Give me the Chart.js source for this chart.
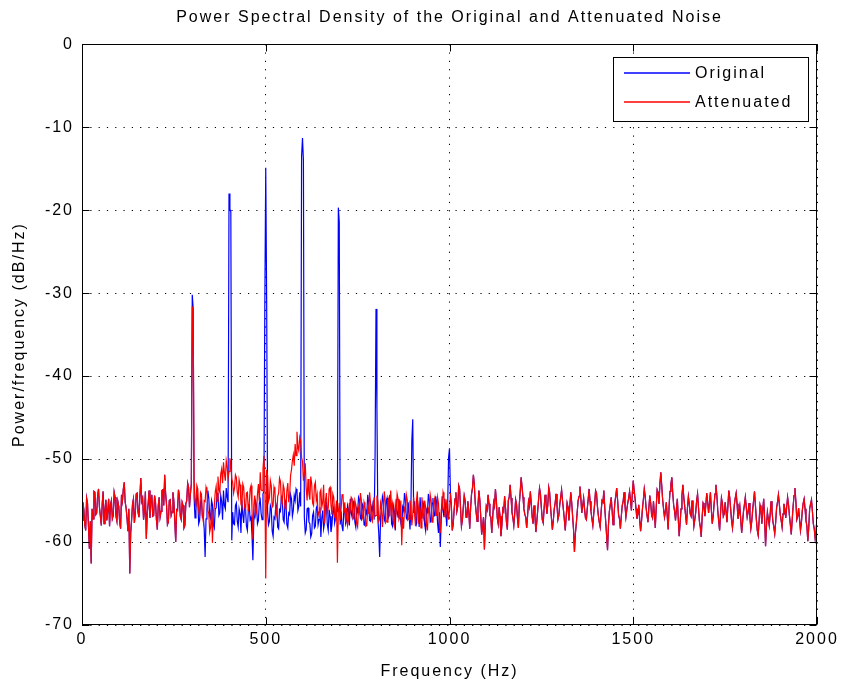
<!DOCTYPE html>
<html lang="en">
<head>
    <meta charset="UTF-8">
    <title>Power Spectral Density</title>
    <style>
        body { margin: 0; background: #fff; }
        canvas { display: block; }
    </style>
</head>
<body>
<canvas id="psd" width="841" height="684"></canvas>

<script src="https://cdn.jsdelivr.net/npm/chart.js"></script>
<script>
    // frequency grid, 2.5 Hz steps from 0 to 2000 Hz
    const freqStep = 2.5;
    const freqMax = 2000;
    const xTicks = [0, 500, 1000, 1500, 2000];
    const yTicks = [0, -10, -20, -30, -40, -50, -60, -70];

    // 0 - 297.5 Hz, same for both curves (one row = 50 Hz)
    const sharedLow = [
        -57.4, -55.2, -56.1, -57.9, -58.6, -54.7, -55.3, -58.0, -60.8, -57.5, -62.6, -56.0, -57.2, -53.9, -54.0, -56.7, -56.5, -54.4, -53.6, -55.8,
        -56.9, -58.0, -55.4, -53.9, -57.8, -56.2, -54.9, -57.4, -56.3, -54.8, -58.1, -55.5, -55.0, -57.2, -56.8, -54.0, -54.6, -56.9, -57.5, -55.1,
        -55.7, -57.6, -58.4, -54.3, -55.1, -53.6, -52.8, -55.2, -55.9, -57.1, -58.7, -56.0, -63.8, -58.9, -57.3, -55.4, -54.8, -57.7, -56.6, -54.2,
        -54.1, -56.4, -57.0, -54.5, -52.3, -55.1, -54.7, -57.3, -56.2, -53.9, -59.6, -56.6, -55.4, -53.8, -57.1, -55.0, -54.3, -56.9, -56.8, -54.4,
        -55.2, -57.3, -58.5, -55.6, -54.6, -57.0, -56.3, -53.8, -53.7, -55.6, -51.9, -54.1, -55.5, -57.9, -57.6, -55.0, -54.9, -56.8, -56.4, -54.0,
        -55.1, -57.5, -60.0, -56.1, -56.2, -53.7, -54.5, -56.9, -57.3, -55.2, -55.6, -58.3, -58.0, -55.4, -55.0, -52.9, -53.4, -55.8, -54.2, -53.0
    ];

    // 300 - 1000 Hz, original noise with the tonal peaks
    const originalMid = [
        -30.2, -31.8, -54.6, -57.1, -56.2, -53.9, -55.0, -57.8, -57.4, -55.2, -54.8, -57.0, -56.9, -58.4, -61.8, -57.2, -56.0, -53.8, -54.7, -56.9,
        -57.2, -55.0, -55.5, -57.9, -58.3, -56.0, -55.9, -54.1, -54.2, -56.8, -56.5, -54.4, -55.1, -57.3, -53.8, -55.6, -56.0, -53.5, -54.6, -55.2,
        -18.0, -19.9, -20.2, -59.8, -56.4, -57.8, -57.9, -55.6, -55.3, -57.5, -58.2, -56.0, -56.6, -58.9, -55.0, -56.7, -57.7, -55.4, -56.1, -58.1,
        -58.6, -56.2, -55.4, -57.3, -57.0, -59.1, -62.2, -57.4, -56.8, -55.1, -55.6, -57.8, -57.4, -55.3, -54.9, -56.6, -57.3, -54.2, -53.9, -31.2,
        -14.9, -31.2, -56.3, -57.9, -57.5, -55.6, -56.0, -58.7, -59.3, -57.0, -57.2, -55.4, -55.8, -58.2, -58.4, -56.1, -56.3, -54.6, -54.9, -57.3,
        -57.6, -55.0, -55.4, -57.9, -58.3, -56.5, -56.7, -54.3, -54.8, -56.9, -56.2, -54.4, -55.0, -53.6, -53.9, -56.2, -55.7, -54.0, -55.7, -13.5,
        -11.3, -14.0, -57.0, -58.9, -58.5, -56.0, -55.9, -57.6, -57.8, -59.4, -59.0, -56.8, -56.4, -58.3, -58.1, -55.9, -55.6, -57.9, -57.3, -55.8,
        -59.4, -57.1, -56.2, -58.4, -57.7, -55.6, -55.3, -57.9, -58.6, -56.1, -56.9, -58.8, -58.0, -56.3, -55.8, -57.7, -57.1, -55.4, -56.4, -19.7,
        -21.4, -57.9, -56.3, -58.1, -58.7, -56.0, -55.9, -57.8, -57.4, -55.6, -56.1, -58.0, -54.8, -56.5, -57.0, -55.1, -55.5, -57.6, -58.2, -56.0,
        -56.4, -54.6, -54.9, -57.1, -57.3, -55.4, -55.7, -57.9, -58.0, -56.2, -56.6, -54.3, -55.2, -57.4, -57.5, -55.8, -56.2, -55.0, -57.3, -49.5,
        -31.9, -43.8, -57.2, -58.9, -61.8, -57.0, -56.1, -54.5, -55.0, -57.3, -57.6, -55.1, -54.7, -57.2, -56.9, -54.3, -55.4, -57.8, -58.1, -55.7,
        -56.3, -58.6, -54.8, -56.2, -57.0, -54.9, -55.6, -57.7, -58.4, -55.8, -56.2, -54.1, -54.9, -57.1, -57.3, -55.2, -56.7, -58.5, -55.9, -47.8,
        -45.2, -56.5, -55.1, -57.4, -57.8, -55.3, -56.0, -58.2, -54.6, -56.6, -57.2, -55.0, -55.8, -57.9, -58.6, -56.1, -56.4, -54.2, -55.0, -57.6,
        -57.5, -55.3, -54.7, -56.9, -56.8, -54.5, -55.3, -57.7, -58.9, -56.4, -60.6, -57.3, -54.5, -56.2, -57.0, -54.8, -56.4, -58.1, -55.6, -49.8,
        -48.7
    ];

    // 300 - 1000 Hz, attenuated noise
    const attenuatedMid = [
        -31.6, -33.0, -52.5, -54.9, -55.8, -53.2, -53.6, -56.1, -56.9, -54.0, -54.2, -56.8, -57.5, -55.0, -55.1, -53.4, -53.9, -56.2, -56.6, -58.8,
        -58.2, -56.0, -60.1, -56.4, -55.7, -54.0, -53.3, -55.1, -52.1, -53.6, -54.0, -51.8, -51.2, -52.9, -50.4, -51.7, -52.6, -50.2, -50.9, -52.3,
        -51.5, -49.9, -50.6, -52.4, -52.8, -54.1, -53.5, -51.9, -52.2, -54.0, -54.6, -52.5, -53.1, -55.4, -55.8, -53.0, -53.4, -55.7, -56.2, -54.1,
        -54.0, -56.3, -55.5, -53.6, -53.2, -55.9, -59.7, -55.5, -54.4, -56.8, -56.3, -54.2, -53.0, -55.1, -51.6, -53.7, -53.8, -51.2, -49.6, -52.4,
        -64.4, -51.3, -52.0, -55.1, -54.7, -52.6, -53.2, -55.8, -55.6, -53.4, -53.9, -56.2, -56.8, -54.5, -54.1, -52.3, -52.7, -55.0, -55.3, -53.1,
        -53.6, -55.9, -56.0, -53.8, -52.9, -55.2, -54.4, -52.0, -51.3, -50.2, -49.5, -50.8, -48.2, -49.6, -46.7, -48.5, -49.0, -47.4, -47.9, -49.8,
        -50.3, -52.6, -51.8, -50.5, -53.5, -55.0, -52.4, -54.2, -54.9, -52.1, -53.0, -55.3, -55.6, -53.2, -52.8, -55.0, -54.3, -56.8, -56.4, -54.0,
        -53.7, -55.8, -55.2, -53.1, -57.8, -55.0, -54.1, -56.5, -55.9, -53.6, -53.4, -55.5, -56.7, -54.2, -54.6, -56.9, -57.2, -55.0, -62.5, -56.3,
        -55.3, -57.4, -56.0, -54.3, -54.2, -56.5, -55.2, -57.6, -55.9, -58.0, -57.4, -55.3, -56.1, -54.6, -54.8, -57.2, -57.0, -55.0, -55.5, -57.8,
        -58.2, -55.9, -56.4, -54.1, -54.9, -57.0, -57.3, -55.2, -55.7, -58.1, -58.0, -55.7, -56.6, -54.0, -55.2, -57.2, -57.5, -55.5, -54.6, -56.9,
        -56.8, -54.4, -55.1, -57.5, -57.2, -55.3, -56.0, -58.2, -56.1, -53.9, -55.0, -57.4, -57.6, -55.0, -54.7, -56.9, -53.8, -56.1, -55.4, -57.7,
        -58.1, -55.6, -56.3, -54.2, -54.8, -57.3, -57.0, -55.0, -60.4, -57.0, -58.4, -55.9, -56.2, -54.3, -54.9, -57.2, -57.3, -55.0, -55.8, -58.0,
        -56.7, -54.6, -56.5, -58.1, -55.1, -53.9, -57.8, -55.5, -56.0, -58.3, -54.6, -56.7, -57.2, -55.0, -55.8, -57.9, -58.6, -56.0, -56.4, -54.3,
        -55.0, -57.6, -57.5, -55.2, -54.7, -56.8, -56.8, -54.6, -55.3, -57.7, -58.9, -56.1, -56.1, -54.0, -54.5, -56.9, -57.0, -55.1, -55.4, -57.3,
        -56.2
    ];

    // 1002.5 - 2000 Hz, same for both curves
    const sharedHigh = [
        -54.1, -55.6, -58.6, -57.9, -56.2, -54.8, -54.0, -56.3, -55.7, -53.2, -53.6, -55.9, -58.1, -57.4, -55.8, -54.4, -55.0, -57.0, -56.9, -55.1,
        -56.3, -58.4, -55.9, -54.2, -53.5, -51.9, -53.0, -55.3, -56.4, -57.5, -55.6, -53.8, -54.9, -56.9, -59.1, -58.2, -57.0, -60.9, -57.6, -55.7,
        -56.1, -54.3, -55.4, -56.8, -57.0, -58.9, -57.1, -55.2, -55.7, -53.6, -55.0, -57.1, -57.8, -55.8, -56.9, -59.3, -58.0, -56.0, -56.3, -54.5,
        -55.9, -57.6, -58.5, -55.0, -54.6, -53.1, -54.7, -56.4, -57.1, -58.0, -56.6, -54.9, -55.5, -57.2, -58.3, -55.4, -53.9, -52.2, -53.4, -54.6,
        -56.0, -56.7, -57.0, -58.3, -56.8, -55.1, -55.7, -53.9, -55.4, -57.0, -57.8, -55.6, -56.9, -58.8, -57.6, -56.2, -54.8, -53.5, -54.2, -55.9,
        -57.3, -57.7, -55.9, -54.3, -55.2, -56.6, -55.5, -53.4, -54.0, -55.8, -57.2, -58.5, -57.4, -56.0, -55.3, -54.2, -55.6, -57.3, -56.8, -55.5,
        -54.6, -53.7, -55.0, -56.1, -57.3, -58.6, -56.9, -55.3, -55.8, -57.4, -55.6, -54.0, -55.2, -56.9, -58.5, -61.2, -59.0, -57.8, -56.4, -55.0,
        -54.5, -53.3, -54.8, -56.5, -55.6, -54.7, -56.0, -57.1, -57.3, -55.9, -54.8, -53.6, -55.1, -56.3, -57.2, -58.0, -56.6, -55.4, -53.8, -54.1,
        -55.7, -56.8, -57.6, -58.2, -56.4, -55.0, -55.2, -53.8, -55.9, -57.5, -59.2, -61.0, -58.0, -56.3, -55.5, -54.6, -56.2, -57.9, -56.8, -55.2,
        -54.4, -53.5, -55.0, -56.7, -57.2, -58.4, -56.9, -55.6, -55.1, -54.0, -55.6, -57.0, -56.1, -55.3, -54.7, -53.9, -55.0, -56.2, -54.1, -52.6,
        -53.8, -54.8, -56.0, -57.2, -56.6, -55.5, -57.3, -58.7, -57.5, -56.0, -54.9, -53.6, -54.5, -55.9, -56.8, -57.6, -55.9, -54.4, -55.3, -56.8,
        -57.1, -55.1, -56.6, -58.3, -55.8, -53.7, -54.0, -55.4, -53.0, -51.6, -53.2, -54.9, -56.0, -57.0, -56.3, -55.2, -56.9, -58.5, -55.7, -53.9,
        -53.0, -52.2, -54.1, -55.6, -56.3, -57.4, -56.0, -54.8, -57.2, -59.3, -57.7, -56.0, -54.4, -53.1, -54.6, -55.7, -56.8, -57.9, -55.9, -54.5,
        -55.4, -56.6, -56.9, -55.0, -56.5, -58.1, -57.3, -56.4, -55.0, -54.2, -55.8, -57.5, -58.2, -59.4, -57.0, -55.3, -55.6, -56.9, -55.5, -54.1,
        -55.2, -56.5, -55.3, -54.0, -56.1, -57.8, -56.9, -55.4, -54.2, -53.1, -54.4, -56.2, -57.5, -58.6, -56.6, -54.7, -55.3, -56.9, -56.6, -55.2,
        -56.3, -57.6, -55.7, -53.8, -54.6, -56.0, -57.4, -58.3, -57.0, -55.5, -54.7, -54.1, -55.4, -57.2, -56.5, -55.7, -57.3, -58.9, -57.6, -56.3,
        -55.5, -54.6, -55.8, -57.0, -56.4, -55.3, -57.1, -58.4, -57.5, -56.1, -55.0, -53.9, -55.6, -57.3, -58.6, -59.2, -57.4, -55.6, -56.2, -57.8,
        -56.0, -54.8, -57.3, -60.5, -58.1, -56.4, -57.2, -58.0, -56.7, -55.1, -56.3, -57.5, -58.2, -59.0, -57.6, -55.9, -55.2, -54.3, -55.4, -56.7,
        -57.4, -58.2, -56.6, -55.4, -56.0, -57.1, -55.8, -54.6, -55.5, -56.8, -57.9, -59.1, -57.3, -55.7, -54.4, -53.5, -55.1, -57.3, -56.9, -55.9,
        -57.2, -58.6, -57.7, -56.2, -55.3, -54.8, -56.0, -57.4, -58.1, -59.9, -58.3, -56.0, -55.4, -54.9, -56.3, -57.8, -58.4, -59.6, -58.7, -57.0
    ];

    const original = sharedLow.concat(originalMid, sharedHigh);
    const attenuated = sharedLow.concat(attenuatedMid, sharedHigh);
    const freqs = Array.from({length: freqMax / freqStep + 1}, (_, i) => i * freqStep);

    const toPoints = vals => vals.map((v, i) => ({x: freqs[i], y: v}));

    const FONT = 'Liberation Sans, Arial, sans-serif';
    Chart.defaults.font.family = FONT;
    Chart.defaults.font.size = 16;
    Chart.defaults.color = '#000';

    // MATLAB text is spaced out a bit
    const spacing = {
        id: 'spacing',
        beforeLayout(chart) { chart.ctx.letterSpacing = '2px'; },
        beforeDraw(chart) { chart.ctx.letterSpacing = '2px'; }
    };

    // axes box with inward ticks on all four sides
    const axesBox = {
        id: 'axesBox',
        afterDatasetsDraw(chart) {
            const {ctx, chartArea: a, scales} = chart;
            const L = Math.round(a.left) + 0.5, R = Math.round(a.right) - 0.5;
            const T = Math.round(a.top) + 0.5, B = Math.round(a.bottom) - 0.5;
            const len = 7;
            ctx.save();
            ctx.strokeStyle = '#000';
            ctx.lineWidth = 1;
            ctx.setLineDash([]);
            ctx.strokeRect(L, T, R - L, B - T);
            ctx.beginPath();
            xTicks.forEach(v => {
                const px = Math.round(scales.x.getPixelForValue(v)) + 0.5;
                ctx.moveTo(px, B); ctx.lineTo(px, B - len);
                ctx.moveTo(px, T); ctx.lineTo(px, T + len);
            });
            yTicks.forEach(v => {
                const py = Math.round(scales.y.getPixelForValue(v)) + 0.5;
                ctx.moveTo(L, py); ctx.lineTo(L + len, py);
                ctx.moveTo(R, py); ctx.lineTo(R - len, py);
            });
            ctx.stroke();
            ctx.restore();
        }
    };

    // boxed legend in the upper right corner
    const boxLegend = {
        id: 'boxLegend',
        afterDraw(chart) {
            const ctx = chart.ctx;
            const x = 613.5, y = 57.5, w = 195, h = 64;
            ctx.save();
            ctx.letterSpacing = '2px';
            ctx.fillStyle = '#fff';
            ctx.fillRect(x, y, w, h);
            ctx.strokeStyle = '#000';
            ctx.lineWidth = 1;
            ctx.strokeRect(x, y, w, h);
            ctx.font = '16px ' + FONT;
            ctx.textBaseline = 'middle';
            chart.data.datasets.forEach((ds, i) => {
                const ly = 73 + i * 29;
                ctx.strokeStyle = ds.borderColor;
                ctx.lineWidth = 1.5;
                ctx.beginPath();
                ctx.moveTo(624, ly);
                ctx.lineTo(690, ly);
                ctx.stroke();
                ctx.fillStyle = '#000';
                ctx.fillText(ds.label, 695, ly + 1);
            });
            ctx.restore();
        }
    };

    new Chart(document.getElementById('psd'), {
        type: 'line',
        data: {
            datasets: [
                { label: 'Original', data: toPoints(original), borderColor: '#0000ff', borderWidth: 1.2, order: 1 },
                { label: 'Attenuated', data: toPoints(attenuated), borderColor: '#ff0000', borderWidth: 1.2, order: 0 }
            ]
        },
        options: {
            responsive: false,
            animation: false,
            devicePixelRatio: 1,
            layout: { padding: { top: 0, right: 24, bottom: 0, left: 0 } },
            elements: { point: { radius: 0 }, line: { tension: 0 } },
            plugins: {
                legend: { display: false },
                tooltip: { enabled: false },
                title: {
                    display: true,
                    fullSize: false,
                    text: 'Power Spectral Density of the Original and Attenuated Noise',
                    font: { size: 16, weight: 'normal' },
                    padding: { top: 8, bottom: 17 }
                }
            },
            scales: {
                x: {
                    type: 'linear',
                    min: 0,
                    max: freqMax,
                    afterBuildTicks: s => { s.ticks = xTicks.map(v => ({value: v})); },
                    afterFit: s => { s.height = 59; s.paddingLeft = 0; s.paddingRight = 0; },
                    ticks: { padding: 5, maxRotation: 0, autoSkip: false, callback: v => String(v) },
                    grid: { color: '#000', lineWidth: 1, drawTicks: false },
                    border: { display: false, dash: [1.2, 7.1] },
                    title: { display: true, text: 'Frequency (Hz)', padding: { top: 0, bottom: 3 } }
                },
                y: {
                    min: -70,
                    max: 0,
                    afterBuildTicks: s => { s.ticks = yTicks.map(v => ({value: v})); },
                    afterFit: s => { s.width = 82; },
                    ticks: { padding: 8, callback: v => String(v) },
                    grid: { color: '#000', lineWidth: 1, drawTicks: false },
                    border: { display: false, dash: [1.2, 7.1] },
                    title: { display: true, text: 'Power/frequency (dB/Hz)', padding: { top: 10, bottom: 0 } }
                }
            }
        },
        plugins: [spacing, axesBox, boxLegend]
    });
</script>
</body>
</html>
